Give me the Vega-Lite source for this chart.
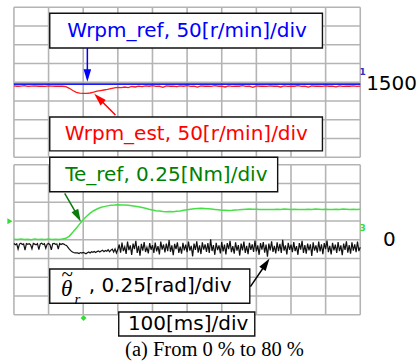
{
"$schema":"https://vega.github.io/schema/vega-lite/v6.json",
"width":417,"height":362,"padding":0,
"autosize":{"type":"fit","contains":"padding"},
"background":"white",
"config":{"view":{"stroke":null}},
"datasets":{
"hgrid":[{"y":0},{"y":1},{"y":2},{"y":3},{"y":4},{"y":5},{"y":6},{"y":7},{"y":8},{"y":8.4},{"y":9.4},{"y":10.4},{"y":11.4},{"y":12.4},{"y":13.4},{"y":14.4},{"y":15.4},{"y":16.4}],
"vgrid":[{"t":0,"y1":0,"y2":8},{"t":100,"y1":0,"y2":8},{"t":200,"y1":0,"y2":8},{"t":300,"y1":0,"y2":8},{"t":400,"y1":0,"y2":8},{"t":500,"y1":0,"y2":8},{"t":600,"y1":0,"y2":8},{"t":700,"y1":0,"y2":8},{"t":800,"y1":0,"y2":8},{"t":900,"y1":0,"y2":8},{"t":1000,"y1":0,"y2":8},
{"t":0,"y1":8.4,"y2":16.4},{"t":100,"y1":8.4,"y2":16.4},{"t":200,"y1":8.4,"y2":16.4},{"t":300,"y1":8.4,"y2":16.4},{"t":400,"y1":8.4,"y2":16.4},{"t":500,"y1":8.4,"y2":16.4},{"t":600,"y1":8.4,"y2":16.4},{"t":700,"y1":8.4,"y2":16.4},{"t":800,"y1":8.4,"y2":16.4},{"t":900,"y1":8.4,"y2":16.4},{"t":1000,"y1":8.4,"y2":16.4}],
"red":[{"t":0,"v":12.21},{"t":10,"v":12.19},{"t":20,"v":12.2},{"t":30,"v":12.22},{"t":40,"v":12.18},{"t":50,"v":12.2},{"t":60,"v":12.21},{"t":70,"v":12.19},{"t":80,"v":12.2},{"t":90,"v":12.18},{"t":100,"v":12.21},{"t":110,"v":12.2},{"t":120,"v":12.19},{"t":130,"v":12.2},{"t":140,"v":12.19},{"t":150,"v":12.17},{"t":160,"v":12.08},{"t":170,"v":11.96},{"t":180,"v":11.86},{"t":190,"v":11.82},{"t":200,"v":11.81},{"t":210,"v":11.81},{"t":220,"v":11.83},{"t":230,"v":11.87},{"t":240,"v":11.93},{"t":250,"v":11.96},{"t":260,"v":11.99},{"t":270,"v":12.02},{"t":280,"v":12.06},{"t":290,"v":12.1},{"t":300,"v":12.13},{"t":310,"v":12.12},{"t":320,"v":12.15},{"t":330,"v":12.12},{"t":340,"v":12.18},{"t":350,"v":12.15},{"t":360,"v":12.2},{"t":370,"v":12.17},{"t":380,"v":12.21},{"t":390,"v":12.19},{"t":400,"v":12.22},{"t":410,"v":12.18},{"t":420,"v":12.2},{"t":430,"v":12.13},{"t":440,"v":12.21},{"t":450,"v":12.19},{"t":460,"v":12.2},{"t":470,"v":12.17},{"t":480,"v":12.21},{"t":490,"v":12.19},{"t":500,"v":12.22},{"t":510,"v":12.18},{"t":520,"v":12.2},{"t":530,"v":12.14},{"t":540,"v":12.21},{"t":550,"v":12.19},{"t":560,"v":12.2},{"t":570,"v":12.18},{"t":580,"v":12.22},{"t":590,"v":12.19},{"t":600,"v":12.2},{"t":610,"v":12.15},{"t":620,"v":12.21},{"t":630,"v":12.18},{"t":640,"v":12.2},{"t":650,"v":12.19},{"t":660,"v":12.22},{"t":670,"v":12.18},{"t":680,"v":12.2},{"t":690,"v":12.13},{"t":700,"v":12.21},{"t":710,"v":12.19},{"t":720,"v":12.2},{"t":730,"v":12.18},{"t":740,"v":12.21},{"t":750,"v":12.19},{"t":760,"v":12.2},{"t":770,"v":12.15},{"t":780,"v":12.21},{"t":790,"v":12.18},{"t":800,"v":12.2},{"t":810,"v":12.19},{"t":820,"v":12.22},{"t":830,"v":12.18},{"t":840,"v":12.2},{"t":850,"v":12.14},{"t":860,"v":12.21},{"t":870,"v":12.19},{"t":880,"v":12.2},{"t":890,"v":12.18},{"t":900,"v":12.21},{"t":910,"v":12.19},{"t":920,"v":12.2},{"t":930,"v":12.16},{"t":940,"v":12.21},{"t":950,"v":12.18},{"t":960,"v":12.2},{"t":970,"v":12.19},{"t":980,"v":12.21},{"t":990,"v":12.18},{"t":1000,"v":12.2}],
"blue":[{"t":0,"v":12.3},{"t":1000,"v":12.3}],
"green":[{"t":0,"v":4.03},{"t":10,"v":4.01},{"t":20,"v":4.04},{"t":30,"v":4.02},{"t":40,"v":4.03},{"t":50,"v":4.0},{"t":60,"v":4.04},{"t":70,"v":4.02},{"t":80,"v":4.03},{"t":90,"v":4.01},{"t":100,"v":4.04},{"t":110,"v":4.02},{"t":120,"v":4.03},{"t":130,"v":4.01},{"t":140,"v":4.04},{"t":150,"v":4.08},{"t":160,"v":4.2},{"t":170,"v":4.4},{"t":180,"v":4.62},{"t":190,"v":4.85},{"t":200,"v":5.07},{"t":210,"v":5.26},{"t":220,"v":5.42},{"t":230,"v":5.55},{"t":240,"v":5.64},{"t":250,"v":5.72},{"t":260,"v":5.77},{"t":270,"v":5.81},{"t":280,"v":5.84},{"t":290,"v":5.85},{"t":300,"v":5.87},{"t":310,"v":5.86},{"t":320,"v":5.85},{"t":330,"v":5.84},{"t":340,"v":5.82},{"t":350,"v":5.79},{"t":360,"v":5.76},{"t":370,"v":5.72},{"t":380,"v":5.68},{"t":390,"v":5.63},{"t":400,"v":5.59},{"t":410,"v":5.55},{"t":420,"v":5.53},{"t":430,"v":5.51},{"t":440,"v":5.5},{"t":450,"v":5.51},{"t":460,"v":5.5},{"t":470,"v":5.52},{"t":480,"v":5.54},{"t":490,"v":5.57},{"t":500,"v":5.6},{"t":510,"v":5.63},{"t":520,"v":5.65},{"t":530,"v":5.67},{"t":540,"v":5.68},{"t":550,"v":5.67},{"t":560,"v":5.66},{"t":570,"v":5.64},{"t":580,"v":5.62},{"t":590,"v":5.6},{"t":600,"v":5.58},{"t":610,"v":5.57},{"t":620,"v":5.56},{"t":630,"v":5.57},{"t":640,"v":5.59},{"t":650,"v":5.6},{"t":660,"v":5.62},{"t":670,"v":5.63},{"t":680,"v":5.64},{"t":690,"v":5.63},{"t":700,"v":5.63},{"t":710,"v":5.62},{"t":720,"v":5.61},{"t":730,"v":5.62},{"t":740,"v":5.61},{"t":750,"v":5.62},{"t":760,"v":5.63},{"t":770,"v":5.62},{"t":780,"v":5.64},{"t":790,"v":5.63},{"t":800,"v":5.62},{"t":810,"v":5.63},{"t":820,"v":5.62},{"t":830,"v":5.61},{"t":840,"v":5.62},{"t":850,"v":5.63},{"t":860,"v":5.62},{"t":870,"v":5.64},{"t":880,"v":5.63},{"t":890,"v":5.62},{"t":900,"v":5.63},{"t":910,"v":5.61},{"t":920,"v":5.62},{"t":930,"v":5.63},{"t":940,"v":5.62},{"t":950,"v":5.64},{"t":960,"v":5.63},{"t":970,"v":5.62},{"t":980,"v":5.63},{"t":990,"v":5.62},{"t":1000,"v":5.63}],
"black":[{"t":0,"v":3.8},{"t":4,"v":3.74},{"t":8,"v":3.79},{"t":12,"v":3.5},{"t":16,"v":3.77},{"t":20,"v":3.82},{"t":24,"v":3.75},{"t":28,"v":3.78},{"t":32,"v":3.45},{"t":36,"v":3.8},{"t":40,"v":3.76},{"t":44,"v":3.79},{"t":48,"v":3.74},{"t":52,"v":3.52},{"t":56,"v":3.81},{"t":60,"v":3.77},{"t":64,"v":3.73},{"t":68,"v":3.8},{"t":72,"v":3.48},{"t":76,"v":3.78},{"t":80,"v":3.82},{"t":84,"v":3.75},{"t":88,"v":3.79},{"t":92,"v":3.55},{"t":96,"v":3.77},{"t":100,"v":3.8},{"t":104,"v":3.74},{"t":108,"v":3.46},{"t":112,"v":3.79},{"t":116,"v":3.81},{"t":120,"v":3.76},{"t":124,"v":3.78},{"t":128,"v":3.5},{"t":132,"v":3.8},{"t":136,"v":3.75},{"t":140,"v":3.79},{"t":144,"v":3.77},{"t":148,"v":3.72},
{"t":152,"v":3.7},{"t":156,"v":3.6},{"t":160,"v":3.5},{"t":164,"v":3.42},{"t":168,"v":3.36},{"t":172,"v":3.32},{"t":176,"v":3.3},{"t":180,"v":3.31},
{"t":184,"v":3.3},{"t":188,"v":3.27},{"t":192,"v":3.32},{"t":196,"v":3.29},{"t":200,"v":3.33},{"t":204,"v":3.3},{"t":208,"v":3.26},{"t":212,"v":3.31},{"t":216,"v":3.35},{"t":220,"v":3.3},{"t":224,"v":3.36},{"t":228,"v":3.33},{"t":232,"v":3.38},{"t":236,"v":3.32},{"t":240,"v":3.37},{"t":244,"v":3.41},{"t":248,"v":3.35},{"t":252,"v":3.4},{"t":256,"v":3.44},{"t":260,"v":3.37},{"t":264,"v":3.43},{"t":268,"v":3.39},{"t":272,"v":3.47},{"t":276,"v":3.36},{"t":280,"v":3.45},{"t":284,"v":3.5},{"t":288,"v":3.35},{"t":292,"v":3.52},{"t":296,"v":3.3},{"t":300,"v":3.48},
{"t":304,"v":3.75},{"t":308,"v":3.32},{"t":312,"v":3.85},{"t":316,"v":3.4},{"t":320,"v":3.62},{"t":324,"v":3.25},{"t":328,"v":3.9},{"t":332,"v":3.45},{"t":336,"v":3.7},{"t":340,"v":3.2},{"t":344,"v":3.8},{"t":348,"v":3.5},{"t":352,"v":3.95},{"t":356,"v":3.3},{"t":360,"v":3.68},{"t":364,"v":3.15},{"t":368,"v":3.78},{"t":372,"v":3.42},{"t":376,"v":3.88},{"t":380,"v":3.35},{"t":384,"v":3.6},{"t":388,"v":3.28},{"t":392,"v":3.82},{"t":396,"v":3.47},{"t":400,"v":3.72},
{"t":404,"v":3.3},{"t":408,"v":3.85},{"t":412,"v":3.38},{"t":416,"v":3.66},{"t":420,"v":3.22},{"t":424,"v":3.9},{"t":428,"v":3.48},{"t":432,"v":3.75},{"t":436,"v":3.33},{"t":440,"v":3.8},{"t":444,"v":3.4},{"t":448,"v":3.98},{"t":452,"v":3.36},{"t":456,"v":3.7},{"t":460,"v":3.18},{"t":464,"v":3.78},{"t":468,"v":3.5},{"t":472,"v":3.86},{"t":476,"v":3.3},{"t":480,"v":3.64},{"t":484,"v":3.26},{"t":488,"v":3.84},{"t":492,"v":3.44},{"t":496,"v":3.74},{"t":500,"v":3.34},
{"t":504,"v":3.9},{"t":508,"v":3.42},{"t":512,"v":3.68},{"t":516,"v":3.12},{"t":520,"v":3.8},{"t":524,"v":3.46},{"t":528,"v":3.92},{"t":532,"v":3.32},{"t":536,"v":3.7},{"t":540,"v":3.24},{"t":544,"v":3.86},{"t":548,"v":3.48},{"t":552,"v":3.76},{"t":556,"v":3.36},{"t":560,"v":3.82},{"t":564,"v":3.3},{"t":568,"v":4.02},{"t":572,"v":3.4},{"t":576,"v":3.72},{"t":580,"v":3.2},{"t":584,"v":3.84},{"t":588,"v":3.45},{"t":592,"v":3.7},{"t":596,"v":3.28},{"t":600,"v":3.88},
{"t":604,"v":3.38},{"t":608,"v":3.74},{"t":612,"v":3.22},{"t":616,"v":3.82},{"t":620,"v":3.5},{"t":624,"v":3.94},{"t":628,"v":3.34},{"t":632,"v":3.66},{"t":636,"v":3.26},{"t":640,"v":3.86},{"t":644,"v":3.42},{"t":648,"v":3.72},{"t":652,"v":3.16},{"t":656,"v":3.8},{"t":660,"v":3.44},{"t":664,"v":3.9},{"t":668,"v":3.3},{"t":672,"v":3.68},{"t":676,"v":3.24},{"t":680,"v":3.84},{"t":684,"v":3.46},{"t":688,"v":3.76},{"t":692,"v":3.35},{"t":696,"v":3.96},{"t":700,"v":3.38},
{"t":704,"v":3.7},{"t":708,"v":3.2},{"t":712,"v":3.82},{"t":716,"v":3.48},{"t":720,"v":3.88},{"t":724,"v":3.32},{"t":728,"v":3.74},{"t":732,"v":3.1},{"t":736,"v":3.8},{"t":740,"v":3.44},{"t":744,"v":3.92},{"t":748,"v":3.36},{"t":752,"v":3.68},{"t":756,"v":3.28},{"t":760,"v":3.86},{"t":764,"v":3.4},{"t":768,"v":3.78},{"t":772,"v":3.3},{"t":776,"v":4.0},{"t":780,"v":3.42},{"t":784,"v":3.7},{"t":788,"v":3.22},{"t":792,"v":3.84},{"t":796,"v":3.46},{"t":800,"v":3.74},
{"t":804,"v":3.34},{"t":808,"v":3.88},{"t":812,"v":3.4},{"t":816,"v":3.66},{"t":820,"v":3.2},{"t":824,"v":3.82},{"t":828,"v":3.48},{"t":832,"v":3.94},{"t":836,"v":3.3},{"t":840,"v":3.72},{"t":844,"v":3.26},{"t":848,"v":3.8},{"t":852,"v":3.44},{"t":856,"v":3.76},{"t":860,"v":3.14},{"t":864,"v":3.86},{"t":868,"v":3.42},{"t":872,"v":3.7},{"t":876,"v":3.32},{"t":880,"v":3.9},{"t":884,"v":3.38},{"t":888,"v":3.76},{"t":892,"v":3.24},{"t":896,"v":3.82},{"t":900,"v":3.5},
{"t":904,"v":3.96},{"t":908,"v":3.34},{"t":912,"v":3.68},{"t":916,"v":3.22},{"t":920,"v":3.84},{"t":924,"v":3.44},{"t":928,"v":3.74},{"t":932,"v":3.3},{"t":936,"v":3.88},{"t":940,"v":3.4},{"t":944,"v":3.7},{"t":948,"v":3.18},{"t":952,"v":3.8},{"t":956,"v":3.46},{"t":960,"v":3.92},{"t":964,"v":3.32},{"t":968,"v":3.72},{"t":972,"v":3.26},{"t":976,"v":3.86},{"t":980,"v":3.42},{"t":984,"v":3.76},{"t":988,"v":3.34},{"t":992,"v":3.9},{"t":996,"v":3.4},{"t":1000,"v":3.6}],
"boxes":[{"t1":103.4,"t2":890.8,"y1":16.08,"y2":14.23},{"t1":103.4,"t2":890.8,"y1":10.55,"y2":8.74},{"t1":103.4,"t2":761.5,"y1":8.4,"y2":6.565},{"t1":103.4,"t2":681,"y1":2.443,"y2":0.613},{"t1":302.6,"t2":695.4,"y1":0.149,"y2":-1.131}],
"labels":[{"t":500,"y":15.16,"label":"Wrpm_ref, 50[r/min]/div","c":"#0000ff"},{"t":498,"y":9.645,"label":"Wrpm_est, 50[r/min]/div","c":"#ff0000"},{"t":440,"y":7.48,"label":"Te_ref, 0.25[Nm]/div","c":"#008000"},{"t":422,"y":1.53,"label":", 0.25[rad]/div","c":"#000000"},{"t":503,"y":-0.49,"label":"100[ms]/div","c":"#000000"}],
"sidelabels":[{"t":1017,"y":12.33,"label":"1500"},{"t":1066,"y":3.99,"label":"0"}],
"theta":[{"t":152,"y":1.37,"label":"θ","s":23},{"t":153,"y":2.12,"label":"~","s":21},{"t":183,"y":0.84,"label":"r","s":15}],
"caption":[{"t":579,"y":-1.877,"label":"(a) From 0 % to 80 %"}],
"shafts":[{"t1":212,"y1":14.23,"t2":212,"y2":12.85,"c":"#0000ff"},{"t1":293.1,"y1":10.66,"t2":244.8,"y2":11.55,"c":"#ff0000"},{"t1":146.6,"y1":6.48,"t2":184.5,"y2":5.26,"c":"#0a7a0a"},{"t1":682.8,"y1":1.499,"t2":727.9,"y2":2.725,"c":"#000000"}],
"heads":[{"t":212,"y":12.76,"a":0,"c":"#0000ff"},{"t":244.8,"y":11.55,"a":135,"c":"#ff0000"},{"t":184.5,"y":5.26,"a":332,"c":"#0a7a0a"},{"t":727.9,"y":2.725,"a":214,"c":"#000000"}],
"markers":[{"t":-11.5,"y":4.99,"shape":"triangle-right","c":"#33dd33"},{"t":201,"y":-0.17,"shape":"diamond","c":"#33dd33"}],
"tinylabels":[{"t":1007,"y":12.95,"label":"1","c":"#3030c0"},{"t":1007,"y":4.63,"label":"3","c":"#33dd33"}]
},
"layer":[
{"data":{"name":"hgrid"},"mark":{"type":"rule","color":"#b4b4b4","strokeWidth":1.6},
 "encoding":{"x":{"datum":0,"type":"quantitative","scale":{"domain":[-40.23,1158.05],"nice":false,"zero":false},"axis":null},"x2":{"datum":1000},
 "y":{"field":"y","type":"quantitative","scale":{"domain":[-2.517,16.789],"nice":false,"zero":false},"axis":null}}},
{"data":{"name":"vgrid"},"mark":{"type":"rule","color":"#b4b4b4","strokeWidth":1.6},
 "encoding":{"x":{"field":"t","type":"quantitative","scale":{"domain":[-40.23,1158.05],"nice":false,"zero":false},"axis":null},
 "y":{"field":"y1","type":"quantitative","scale":{"domain":[-2.517,16.789],"nice":false,"zero":false},"axis":null},"y2":{"field":"y2"}}},
{"data":{"name":"red"},"mark":{"type":"line","color":"#ff1a1a","strokeWidth":1.3},
 "encoding":{"x":{"field":"t","type":"quantitative","scale":{"domain":[-40.23,1158.05],"nice":false,"zero":false},"axis":null},
 "y":{"field":"v","type":"quantitative","scale":{"domain":[-2.517,16.789],"nice":false,"zero":false},"axis":null}}},
{"data":{"name":"blue"},"mark":{"type":"line","color":"#1a1aff","strokeWidth":1.6},
 "encoding":{"x":{"field":"t","type":"quantitative","scale":{"domain":[-40.23,1158.05],"nice":false,"zero":false},"axis":null},
 "y":{"field":"v","type":"quantitative","scale":{"domain":[-2.517,16.789],"nice":false,"zero":false},"axis":null}}},
{"data":{"name":"green"},"mark":{"type":"line","color":"#44e044","strokeWidth":1.5},
 "encoding":{"x":{"field":"t","type":"quantitative","scale":{"domain":[-40.23,1158.05],"nice":false,"zero":false},"axis":null},
 "y":{"field":"v","type":"quantitative","scale":{"domain":[-2.517,16.789],"nice":false,"zero":false},"axis":null}}},
{"data":{"name":"black"},"mark":{"type":"line","color":"#111111","strokeWidth":1.2},
 "encoding":{"x":{"field":"t","type":"quantitative","scale":{"domain":[-40.23,1158.05],"nice":false,"zero":false},"axis":null},
 "y":{"field":"v","type":"quantitative","scale":{"domain":[-2.517,16.789],"nice":false,"zero":false},"axis":null}}},
{"data":{"name":"boxes"},"mark":{"type":"rect","fill":"white","stroke":"#111111","strokeWidth":1.4},
 "encoding":{"x":{"field":"t1","type":"quantitative","scale":{"domain":[-40.23,1158.05],"nice":false,"zero":false},"axis":null},"x2":{"field":"t2"},
 "y":{"field":"y1","type":"quantitative","scale":{"domain":[-2.517,16.789],"nice":false,"zero":false},"axis":null},"y2":{"field":"y2"}}},
{"data":{"name":"labels"},"mark":{"type":"text","font":"DejaVu Sans","fontSize":20,"align":"center","baseline":"middle"},
 "encoding":{"x":{"field":"t","type":"quantitative","scale":{"domain":[-40.23,1158.05],"nice":false,"zero":false},"axis":null},
 "y":{"field":"y","type":"quantitative","scale":{"domain":[-2.517,16.789],"nice":false,"zero":false},"axis":null},
 "text":{"field":"label"},"color":{"field":"c","type":"nominal","scale":null}}},
{"data":{"name":"sidelabels"},"mark":{"type":"text","font":"DejaVu Sans","fontSize":20,"align":"left","baseline":"middle","color":"#000000"},
 "encoding":{"x":{"field":"t","type":"quantitative","scale":{"domain":[-40.23,1158.05],"nice":false,"zero":false},"axis":null},
 "y":{"field":"y","type":"quantitative","scale":{"domain":[-2.517,16.789],"nice":false,"zero":false},"axis":null},
 "text":{"field":"label"}}},
{"data":{"name":"theta"},"mark":{"type":"text","font":"Liberation Serif","fontStyle":"italic","align":"center","baseline":"middle","color":"#000000"},
 "encoding":{"x":{"field":"t","type":"quantitative","scale":{"domain":[-40.23,1158.05],"nice":false,"zero":false},"axis":null},
 "y":{"field":"y","type":"quantitative","scale":{"domain":[-2.517,16.789],"nice":false,"zero":false},"axis":null},
 "text":{"field":"label"},"size":{"field":"s","type":"quantitative","scale":null}}},
{"data":{"name":"caption"},"mark":{"type":"text","font":"Liberation Serif","fontSize":20.5,"align":"center","baseline":"middle","color":"#000000"},
 "encoding":{"x":{"field":"t","type":"quantitative","scale":{"domain":[-40.23,1158.05],"nice":false,"zero":false},"axis":null},
 "y":{"field":"y","type":"quantitative","scale":{"domain":[-2.517,16.789],"nice":false,"zero":false},"axis":null},
 "text":{"field":"label"}}},
{"data":{"name":"shafts"},"mark":{"type":"rule","strokeWidth":1.5},
 "encoding":{"x":{"field":"t1","type":"quantitative","scale":{"domain":[-40.23,1158.05],"nice":false,"zero":false},"axis":null},"x2":{"field":"t2"},
 "y":{"field":"y1","type":"quantitative","scale":{"domain":[-2.517,16.789],"nice":false,"zero":false},"axis":null},"y2":{"field":"y2"},
 "color":{"field":"c","type":"nominal","scale":null}}},
{"data":{"name":"heads"},"mark":{"type":"point","filled":true,"opacity":1,"size":160,"strokeWidth":0,"shape":"M-0.6,-1L0.6,-1L0,1Z"},
 "encoding":{"x":{"field":"t","type":"quantitative","scale":{"domain":[-40.23,1158.05],"nice":false,"zero":false},"axis":null},
 "y":{"field":"y","type":"quantitative","scale":{"domain":[-2.517,16.789],"nice":false,"zero":false},"axis":null},
 "angle":{"field":"a","type":"quantitative","scale":null},
 "color":{"field":"c","type":"nominal","scale":null}}},
{"data":{"name":"markers"},"mark":{"type":"point","filled":true,"opacity":1,"size":35,"strokeWidth":0},
 "encoding":{"x":{"field":"t","type":"quantitative","scale":{"domain":[-40.23,1158.05],"nice":false,"zero":false},"axis":null},
 "y":{"field":"y","type":"quantitative","scale":{"domain":[-2.517,16.789],"nice":false,"zero":false},"axis":null},
 "shape":{"field":"shape","type":"nominal","scale":null},
 "color":{"field":"c","type":"nominal","scale":null}}},
{"data":{"name":"tinylabels"},"mark":{"type":"text","font":"DejaVu Sans","fontSize":9,"fontWeight":"bold","align":"center","baseline":"middle"},
 "encoding":{"x":{"field":"t","type":"quantitative","scale":{"domain":[-40.23,1158.05],"nice":false,"zero":false},"axis":null},
 "y":{"field":"y","type":"quantitative","scale":{"domain":[-2.517,16.789],"nice":false,"zero":false},"axis":null},
 "text":{"field":"label"},"color":{"field":"c","type":"nominal","scale":null}}}
]
}
